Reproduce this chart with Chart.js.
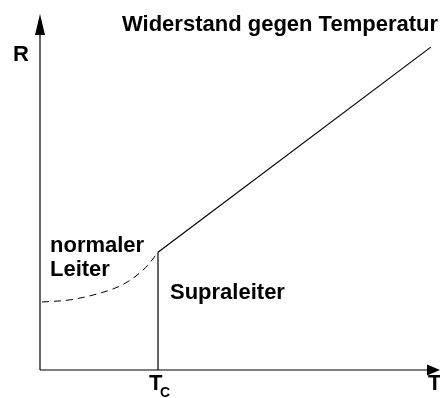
<!DOCTYPE html>
<html>
<head>
<meta charset="utf-8">
<script src="https://cdn.jsdelivr.net/npm/chart.js@4/dist/chart.umd.min.js"></script>
<style>
  html, body { margin: 0; padding: 0; background: #fff; }
  #wrap { width: 440px; height: 398px; }
</style>
</head>
<body>
<div id="wrap"><canvas id="rt" width="440" height="398"></canvas></div>
<script>
// Sprungtemperatur
const tc = 2.95;

// normaler Leiter unterhalb Tc (gestrichelt)
const normalT = [0.05, 0.75, 1.5, 2.0, 2.4, 2.7, 2.95];
const normalR = [1.91, 1.97, 2.16, 2.36, 2.64, 2.95, 3.31];

// linearer Anstieg oberhalb Tc
const linearT = [2.95, 9.77];
const linearR = [3.31, 9.07];

// Sprung auf R = 0 bei Tc
const jumpT = [tc, tc];
const jumpR = [0, 3.31];

const titleText = 'Widerstand gegen Temperatur';
const axisLabels = ['T', 'R'];
const tcLabel = ['T', 'C'];
const regionLabels = [['normaler', 'Leiter'], ['Supraleiter']];

const toPoints = (xs, ys) => xs.map((x, i) => ({ x: x, y: ys[i] }));

const FONT = '"Liberation Sans", Arial, sans-serif';

const annotate = {
    id: 'annotate',
    afterDraw(chart) {
        const c = chart.ctx;
        const a = chart.chartArea;
        const xs = chart.scales.x;
        c.save();
        c.strokeStyle = '#000';
        c.fillStyle = '#000';
        c.lineWidth = 1.2;

        // Achsen mit Pfeilspitzen
        c.beginPath();
        c.moveTo(a.left, a.bottom);
        c.lineTo(a.left, a.top + 10);
        c.moveTo(a.left, a.bottom);
        c.lineTo(a.right - 10, a.bottom);
        c.stroke();

        c.beginPath();
        c.moveTo(a.left, a.top);
        c.lineTo(a.left - 5, a.top + 21);
        c.lineTo(a.left + 5, a.top + 21);
        c.closePath();
        c.fill();

        c.beginPath();
        c.moveTo(a.right, a.bottom);
        c.lineTo(a.right - 13, a.bottom - 5.5);
        c.lineTo(a.right - 13, a.bottom + 5.5);
        c.closePath();
        c.fill();

        c.font = 'bold 22px ' + FONT;
        c.textBaseline = 'alphabetic';

        c.textAlign = 'right';
        c.fillText(titleText, a.right - 2, 31);

        c.textAlign = 'left';
        c.fillText(axisLabels[1], 13, 61);
        c.fillText(axisLabels[0], a.right - 12, 390);

        const px = xs.getPixelForValue(tc);
        c.fillText(tcLabel[0], px - 9, 390);
        c.font = 'bold 14px ' + FONT;
        c.fillText(tcLabel[1], px + 2, 397);

        c.font = 'bold 22px ' + FONT;
        c.fillText(regionLabels[0][0], 50, 252);
        c.fillText(regionLabels[0][1], 50, 276);
        c.fillText(regionLabels[1][0], px + 12, 299);
        c.restore();
    }
};

new Chart(document.getElementById('rt'), {
    type: 'scatter',
    data: {
        datasets: [{
            data: toPoints(normalT, normalR),
            showLine: true,
            borderColor: '#000',
            borderWidth: 1,
            borderDash: [7, 5],
            cubicInterpolationMode: 'monotone',
            pointRadius: 0
        }, {
            data: toPoints(linearT, linearR),
            showLine: true,
            borderColor: '#000',
            borderWidth: 1.2,
            pointRadius: 0
        }, {
            data: toPoints(jumpT, jumpR),
            showLine: true,
            borderColor: '#000',
            borderWidth: 1.2,
            pointRadius: 0
        }]
    },
    options: {
        responsive: false,
        animation: false,
        layout: { padding: { left: 40, right: 0, top: 14, bottom: 28 } },
        plugins: {
            legend: { display: false },
            tooltip: { enabled: false }
        },
        scales: {
            x: { type: 'linear', display: false, min: 0, max: 10 },
            y: { type: 'linear', display: false, min: 0, max: 10 }
        }
    },
    plugins: [annotate]
});
</script>
</body>
</html>
